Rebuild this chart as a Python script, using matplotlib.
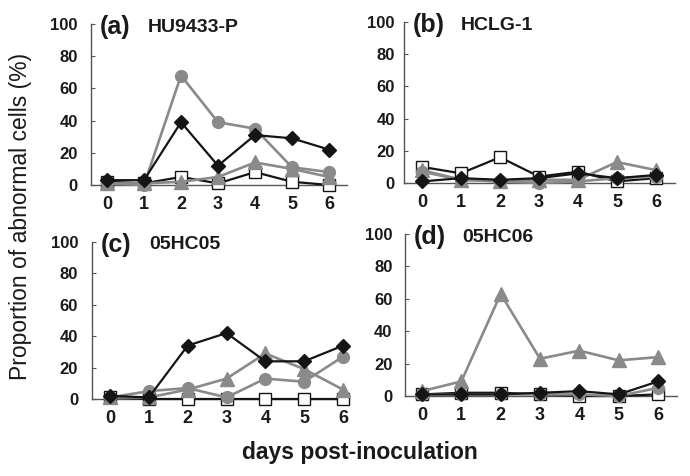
import matplotlib
matplotlib.use("Agg")
import matplotlib.pyplot as plt

plt.rcParams['font.family'] = ['Liberation Sans', 'DejaVu Sans']

days = [0, 1, 2, 3, 4, 5, 6]
yticks = [0, 20, 40, 60, 80, 100]

panel_labels = ["(a)", "(b)", "(c)", "(d)"]
strains = ["HU9433-P", "HCLG-1", "05HC05", "05HC06"]

# series per panel: diamond (black), circle (gray), triangle (gray), square (black, open)
diamond = [
    [3, 3, 39, 12, 31, 29, 22],
    [1, 3, 2, 3, 6, 3, 5],
    [2, 1, 34, 42, 24, 24, 34],
    [1, 1, 1, 2, 3, 1, 9],
]
circle = [
    [1, 0, 68, 39, 35, 11, 8],
    [7, 2, 1, 0, 1, 3, 4],
    [1, 5, 7, 1, 13, 11, 27],
    [1, 1, 1, 1, 1, 0, 5],
]
triangle = [
    [1, 1, 2, 5, 14, 10, 5],
    [8, 2, 1, 2, 2, 13, 8],
    [1, 1, 6, 13, 29, 19, 6],
    [3, 9, 63, 23, 28, 22, 24],
]
square = [
    [2, 1, 5, 1, 8, 2, 0],
    [10, 6, 16, 4, 7, 1, 3],
    [1, 0, 0, 0, 0, 0, 0],
    [1, 2, 2, 1, 0, 0, 1],
]

W, H = 690, 476
fig = plt.figure(figsize=(W / 100, H / 100), dpi=100)

# axes boxes in pixels: (left, right, y of zero, y of 100)
boxes = [
    (91, 347, 185, 24),
    (404, 675, 183, 22),
    (92, 349, 399, 242),
    (405, 677, 396, 234),
]
xzero = [(107, 329), (422, 656), (110, 343), (422, 658)]
ypads = [9.5, 6.5, 10, 9]

black = '#151515'
gray = '#8a8a8a'
spine_c = '#555555'

for i in range(4):
    l, r, yb, yt = boxes[i]
    ax = fig.add_axes([l / W, 1 - yb / H, (r - l) / W, (yb - yt) / H])
    x0, x6 = xzero[i]
    ppu = (x6 - x0) / 6
    ax.set_xlim((l - x0) / ppu, (r - x0) / ppu)
    ax.set_ylim(0, 100)
    ax.plot(days, square[i], color=black, lw=1.6, marker='s', ms=8,
            mfc='white', mec=black, mew=1.0, zorder=3)
    ax.plot(days, triangle[i], color=gray, lw=1.9, marker='^', ms=9.5,
            mfc=gray, mec=gray, zorder=4)
    ax.plot(days, circle[i], color=gray, lw=1.9, marker='o', ms=8.5,
            mfc=gray, mec=gray, zorder=4)
    ax.plot(days, diamond[i], color=black, lw=1.6, marker='D', ms=7,
            mfc=black, mec=black, zorder=5)
    for s in ['top', 'right']:
        ax.spines[s].set_visible(False)
    for s in ['left', 'bottom']:
        ax.spines[s].set_color(spine_c)
        ax.spines[s].set_linewidth(1.0)
    ax.spines['left'].set_bounds(0, 100)
    ax.set_xticks(days)
    ax.set_yticks(yticks)
    ax.set_xticklabels([str(d) for d in days], fontsize=13, fontweight='bold')
    ax.set_yticklabels([str(v) for v in yticks], fontsize=12, fontweight='bold')
    ax.tick_params(axis='x', length=0, pad=8, colors='#1a1a1a')
    ax.tick_params(axis='y', direction='in', length=3, width=0.8, color=spine_c,
                   pad=ypads[i], labelcolor='#1a1a1a')
    for ln in ax.lines:
        ln.set_clip_on(False)
    # panel labels placed by pixel offsets from the y axis
    ax.text((l + 9) / W, 1 - (yt + 3) / H, panel_labels[i], transform=fig.transFigure,
            fontsize=18, fontweight='bold', va='center', ha='left', color='#1a1a1a')
    ax.text((l + 57) / W, 1 - (yt + 3) / H, strains[i], transform=fig.transFigure,
            fontsize=14, fontweight='bold', va='center', ha='left', color='#1a1a1a')

fig.text(21 / W, 1 - 216 / H, 'Proportion of abnormal cells (%)', rotation=90,
         fontsize=16.5, va='center', ha='center', color='#1a1a1a')
fig.text(360 / W, 1 - 452 / H, 'days post-inoculation', fontsize=16.5,
         fontweight='bold', va='center', ha='center', color='#1a1a1a')

fig.savefig('out.png', dpi=100)
